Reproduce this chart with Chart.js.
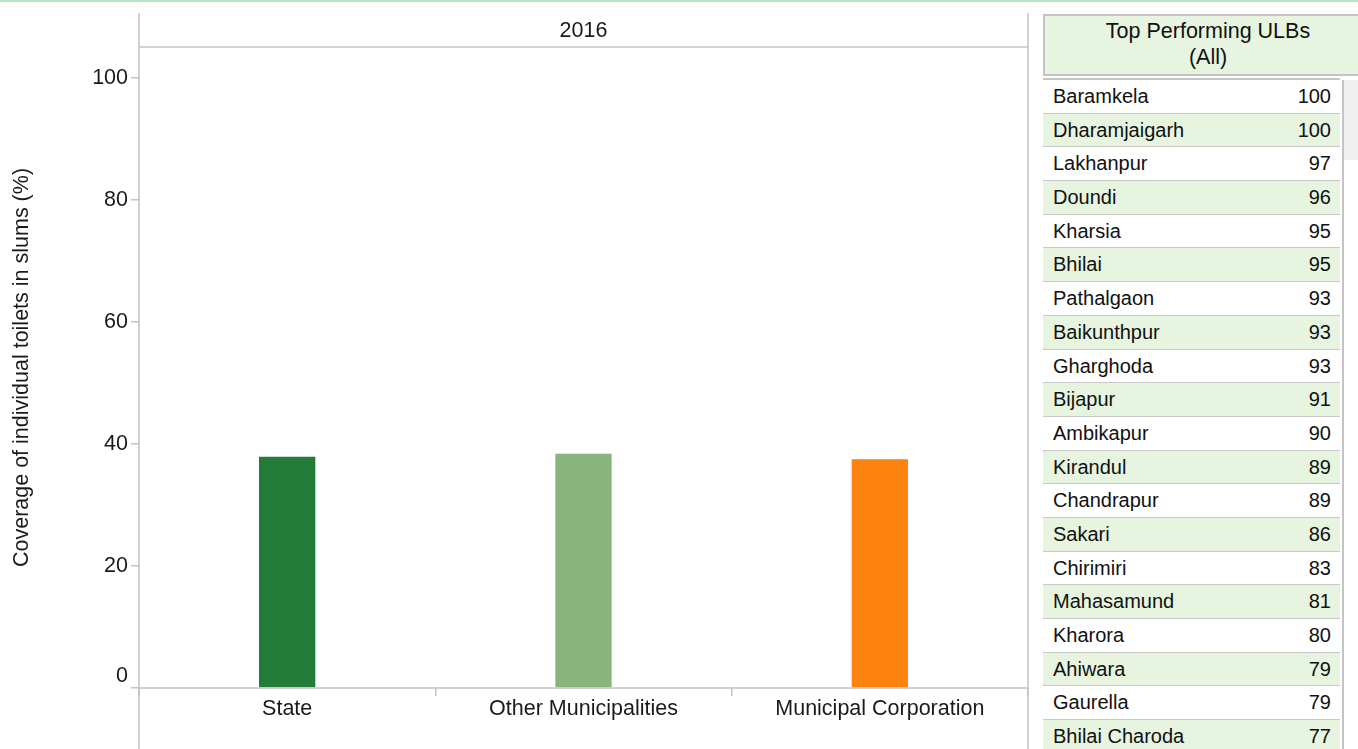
<!DOCTYPE html>
<html>
<head>
<meta charset="utf-8">
<script src="https://cdn.jsdelivr.net/npm/chart.js@4"></script>
<style>
  body { margin: 0; width: 1358px; height: 749px; overflow: hidden; background: #fff;
         font-family: "Liberation Sans", Arial, sans-serif; position: relative; }
  #topline { position: absolute; left: 0; top: 0; width: 1358px; height: 2px; background: #b5e3c4; }
  #chartBox { position: absolute; left: 0; top: 0; width: 1030px; height: 749px; }
  #hdr { position: absolute; left: 1043px; top: 14px; width: 330px; height: 56px;
         border: 2px solid #c4c4c4; background: #e7f5e0; color: #111;
         font-size: 21.5px; line-height: 26px; text-align: center; padding-top: 2px; }
  #hdr span { display: block; width: 326px; }
  #rows { position: absolute; left: 1043px; top: 78px; width: 297px; height: 671px; overflow: hidden;
          border-top: 2px solid #c4c4c4; }
  .row { height: 32.7px; border-bottom: 1px solid #c8c8c8; font-size: 20px; line-height: 32.7px;
         color: #111; position: relative; }
  .row.alt { background: #e7f5e0; }
  .row .n { position: absolute; left: 10px; }
  .row .v { position: absolute; right: 9px; }
  #scroll { position: absolute; left: 1342px; top: 80px; width: 16px; height: 669px;
            border-left: 2px solid #c4c4c4; background: #fff; }
  #thumb { position: absolute; left: 0; top: 0; width: 16px; height: 80px; background: #efefef; }
</style>
</head>
<body>
<div id="topline"></div>
<div id="chartBox"><canvas id="myChart"></canvas></div>
<div id="hdr"><span>Top Performing ULBs</span><span>(All)</span></div>
<div id="rows"></div>
<div id="scroll"><div id="thumb"></div></div>

<script>
// chart data
var categories = ["State", "Other Municipalities", "Municipal Corporation"];
var coverage = [37.9, 38.4, 37.5];
var barColors = ["#227b38", "#89b57c", "#fd8210"];
var yearLabel = "2016";
var yTicks = [0, 20, 40, 60, 80, 100];

// top performing ULBs table
var ulbNames = ["Baramkela", "Dharamjaigarh", "Lakhanpur", "Doundi", "Kharsia", "Bhilai",
  "Pathalgaon", "Baikunthpur", "Gharghoda", "Bijapur", "Ambikapur", "Kirandul",
  "Chandrapur", "Sakari", "Chirimiri", "Mahasamund", "Kharora", "Ahiwara", "Gaurella",
  "Bhilai Charoda"];
var ulbValues = [100, 100, 97, 96, 95, 95, 93, 93, 93, 91, 90, 89, 89, 86, 83, 81, 80, 79, 79, 77];

var html = "";
for (var i = 0; i < ulbNames.length; i++) {
  html += "<div class='row" + (i % 2 ? " alt" : "") + "'><span class='n'>" + ulbNames[i] +
    "</span><span class='v'>" + ulbValues[i] + "</span></div>";
}
document.getElementById("rows").innerHTML = html;

var axisGray = "#c4c4c4";
var txt = "#1a1a1a";
var fnt = { family: "'Liberation Sans', Arial, sans-serif", size: 21.5 };

// panel frame + year header, Tableau style
var framePlugin = {
  id: "frame",
  afterDraw: function(chart) {
    var ctx = chart.ctx, a = chart.chartArea;
    var h = chart.height;
    ctx.save();
    ctx.strokeStyle = axisGray;
    ctx.lineWidth = 1.5;
    ctx.beginPath();
    ctx.moveTo(a.left, 13); ctx.lineTo(a.left, h);
    ctx.moveTo(a.right, 13); ctx.lineTo(a.right, h);
    ctx.moveTo(a.left, a.top); ctx.lineTo(a.right, a.top);
    ctx.moveTo(a.left, a.bottom); ctx.lineTo(a.right, a.bottom);
    ctx.stroke();
    ctx.fillStyle = txt;
    ctx.font = fnt.size + "px " + fnt.family;
    ctx.textAlign = "center";
    ctx.textBaseline = "middle";
    ctx.fillText(yearLabel, (a.left + a.right) / 2, 31);
    // zero label sits just above the baseline, like tableau does it
    ctx.textAlign = "right";
    ctx.fillText("0", a.left - 11, chart.scales.y.getPixelForValue(0) - 12);
    ctx.restore();
  }
};

var chart = new Chart(document.getElementById("myChart").getContext("2d"), {
  type: "bar",
  data: {
    labels: categories,
    datasets: [{
      data: coverage,
      backgroundColor: barColors,
      barPercentage: 0.19,
      categoryPercentage: 1
    }]
  },
  options: {
    responsive: true,
    maintainAspectRatio: false,
    animation: false,
    layout: { padding: { top: 47, right: 2, left: 0, bottom: 0 } },
    plugins: { legend: { display: false }, tooltip: { enabled: false } },
    scales: {
      x: {
        afterFit: function(s) { s.height = 61; },
        grid: { offset: true, drawOnChartArea: false, tickLength: 8, color: axisGray, lineWidth: 1.5 },
        border: { display: false },
        ticks: { color: txt, font: fnt, padding: 0, maxRotation: 0 }
      },
      y: {
        min: 0,
        max: 105.1,
        afterFit: function(s) { s.width = 139; },
        afterBuildTicks: function(s) {
          s.ticks = yTicks.map(function(v) { return { value: v }; });
        },
        grid: { drawOnChartArea: false, tickLength: 8, color: axisGray, lineWidth: 1.5 },
        border: { display: false },
        ticks: {
          font: fnt,
          padding: 3,
          color: function(c) { return c.tick && c.tick.value === 0 ? "rgba(0,0,0,0)" : txt; }
        },
        title: {
          display: true,
          text: "Coverage of individual toilets in slums (%)",
          color: txt,
          font: fnt,
          padding: { top: 9, bottom: 0 }
        }
      }
    }
  },
  plugins: [framePlugin]
});
</script>
</body>
</html>
